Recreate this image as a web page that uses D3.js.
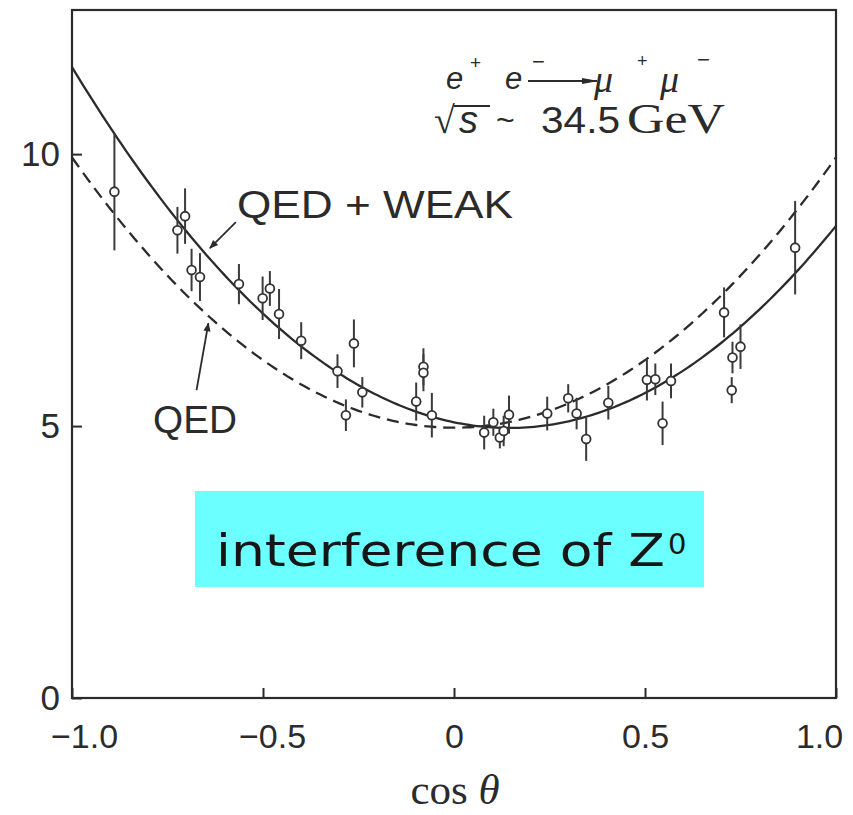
<!DOCTYPE html>
<html>
<head>
<meta charset="utf-8">
<script src="https://cdn.jsdelivr.net/npm/d3@7"></script>
<style>
  body { margin: 0; background: #ffffff; }
  svg { display: block; }
</style>
</head>
<body>
<svg id="chart" width="853" height="815"></svg>
<script>
// Measured differential cross section for e+e- -> mu+mu- at sqrt(s) ~ 34.5 GeV
const cosTheta = [-0.889, -0.704, -0.724, -0.687, -0.665, -0.563, -0.501, -0.482, -0.458, -0.400,
                  -0.305, -0.262, -0.283, -0.240, -0.099, -0.080, -0.080, -0.058, 0.079, 0.103,
                  0.120, 0.130, 0.144, 0.244, 0.299, 0.321, 0.346, 0.404, 0.505, 0.527,
                  0.546, 0.568, 0.893, 0.707, 0.750, 0.729, 0.727];
const crossSection = [9.31, 8.86, 8.60, 7.87, 7.74, 7.61, 7.35, 7.53, 7.06, 6.57,
                      6.01, 6.52, 5.20, 5.62, 5.45, 6.09, 5.98, 5.20, 4.88, 5.07,
                      4.79, 4.91, 5.21, 5.23, 5.51, 5.23, 4.76, 5.43, 5.85, 5.86,
                      5.05, 5.83, 8.28, 7.09, 6.46, 6.26, 5.66];
const errors = [1.08, 0.51, 0.43, 0.39, 0.44, 0.37, 0.40, 0.32, 0.46, 0.34,
                0.31, 0.44, 0.29, 0.28, 0.35, 0.34, 0.34, 0.41, 0.31, 0.25,
                0.20, 0.28, 0.35, 0.31, 0.26, 0.29, 0.40, 0.31, 0.38, 0.29,
                0.40, 0.32, 0.86, 0.46, 0.41, 0.29, 0.24];

// Theory: QED ~ N(1 + cos^2), QED + weak adds a forward-backward asymmetric term
const qedNorm = 4.97;
const weakNorm = 5.07;
const weakAsym = -1.46;

const xTicks = [-1, -0.5, 0, 0.5, 1];
const xTickLabels = ["\u22121.0", "\u22120.5", "0", "0.5", "1.0"];
const yTicks = [0, 5, 10];
const yTickLabels = ["0", "5", "10"];

const svg = d3.select("#chart");
const plotLeft = 72, plotRight = 836, plotTop = 10, plotBottom = 698;

const x = d3.scaleLinear().domain([-1, 1]).range([plotLeft, plotRight]);
const y = d3.scaleLinear().domain([0, 12.65]).range([plotBottom, plotTop]);

const ink = "#2b2b2b";
const sans = "'Liberation Sans', Arial, Helvetica, sans-serif";
const serif = "'Liberation Serif', 'Times New Roman', serif";

const defs = svg.append("defs");
defs.append("marker")
  .attr("id", "head").attr("viewBox", "0 0 10 10")
  .attr("refX", 9).attr("refY", 5)
  .attr("markerWidth", 9).attr("markerHeight", 9)
  .attr("markerUnits", "userSpaceOnUse")
  .attr("orient", "auto")
  .append("path").attr("d", "M0,1 L10,5 L0,9 Z").attr("fill", ink);
defs.append("marker")
  .attr("id", "headWide").attr("viewBox", "0 0 10 10")
  .attr("refX", 9).attr("refY", 5)
  .attr("markerWidth", 17).attr("markerHeight", 9)
  .attr("markerUnits", "userSpaceOnUse")
  .attr("preserveAspectRatio", "none")
  .attr("orient", "auto")
  .append("path").attr("d", "M0,1.5 L10,5 L0,8.5 Z").attr("fill", ink);
defs.append("clipPath").attr("id", "plotClip")
  .append("rect").attr("x", plotLeft).attr("y", plotTop)
  .attr("width", plotRight - plotLeft).attr("height", plotBottom - plotTop);

// Cyan caption box (drawn under the plot frame)
svg.append("rect")
  .attr("x", 195).attr("y", 491).attr("width", 509).attr("height", 96)
  .attr("fill", "#6bffff");

// Frame
svg.append("rect")
  .attr("x", plotLeft).attr("y", plotTop)
  .attr("width", plotRight - plotLeft).attr("height", plotBottom - plotTop)
  .attr("fill", "none").attr("stroke", ink).attr("stroke-width", 2.2);

// Bottom axis with inward ticks
const xAxis = d3.axisBottom(x)
  .tickValues(xTicks)
  .tickSize(-10)
  .tickPadding(26)
  .tickFormat((d, i) => xTickLabels[i]);
const gx = svg.append("g").attr("transform", `translate(0,${plotBottom})`).call(xAxis);
gx.select(".domain").remove();
gx.selectAll(".tick line").attr("stroke", ink).attr("stroke-width", 2);
gx.selectAll(".tick text")
  .attr("font-family", sans).attr("font-size", 34).attr("fill", ink)
  .attr("dx", d => d === -1 ? 12 : d === 1 ? -17 : d < 0 ? 9 : 0);

// Left axis with inward ticks
const yAxis = d3.axisLeft(y)
  .tickValues(yTicks)
  .tickSize(-10)
  .tickPadding(12)
  .tickFormat((d, i) => yTickLabels[i]);
const gy = svg.append("g").attr("transform", `translate(${plotLeft},0)`).call(yAxis);
gy.select(".domain").remove();
gy.selectAll(".tick line").attr("stroke", ink).attr("stroke-width", 2);
gy.selectAll(".tick text")
  .attr("font-family", sans).attr("font-size", 35).attr("fill", ink);

// Axis title
const xt = svg.append("text")
  .attr("x", 455).attr("y", 804)
  .attr("text-anchor", "middle")
  .attr("font-family", serif)
  .attr("font-size", 43).attr("fill", ink);
xt.append("tspan").text("cos ");
xt.append("tspan").attr("font-style", "italic").text("\u03b8");

// Theory curves
const grid = d3.range(0, 201).map(i => -1 + i / 100);
const qed = c => qedNorm * (1 + c * c);
const qedWeak = c => weakNorm * (1 + c * c) + weakAsym * c;
const line = d3.line().x(d => x(d[0])).y(d => y(d[1]));

const plot = svg.append("g").attr("clip-path", "url(#plotClip)");

plot.append("path")
  .attr("d", line(grid.map(c => [c, qed(c)])))
  .attr("fill", "none").attr("stroke", ink)
  .attr("stroke-width", 2.3).attr("stroke-dasharray", "12,7");

plot.append("path")
  .attr("d", line(grid.map(c => [c, qedWeak(c)])))
  .attr("fill", "none").attr("stroke", ink).attr("stroke-width", 2.3);

// Data points with error bars
const points = cosTheta.map((c, i) => ({ c, v: crossSection[i], e: errors[i] }));
const pg = plot.append("g");
pg.selectAll("line.err").data(points).join("line")
  .attr("class", "err")
  .attr("x1", d => x(d.c)).attr("x2", d => x(d.c))
  .attr("y1", d => y(d.v - d.e)).attr("y2", d => y(d.v + d.e))
  .attr("stroke", "#3a3a3a").attr("stroke-width", 2);
pg.selectAll("circle").data(points).join("circle")
  .attr("cx", d => x(d.c)).attr("cy", d => y(d.v))
  .attr("r", 4.4)
  .attr("fill", "#ffffff").attr("stroke", "#333").attr("stroke-width", 1.8);

// Curve labels with pointer arrows
svg.append("line")
  .attr("x1", x(-0.571)).attr("y1", y(8.75))
  .attr("x2", x(-0.639)).attr("y2", y(8.27))
  .attr("stroke", ink).attr("stroke-width", 1.8)
  .attr("marker-end", "url(#head)");
svg.append("line")
  .attr("x1", x(-0.674)).attr("y1", y(5.66))
  .attr("x2", x(-0.643)).attr("y2", y(6.89))
  .attr("stroke", ink).attr("stroke-width", 1.8)
  .attr("marker-end", "url(#head)");

svg.append("text")
  .attr("x", 237).attr("y", 218)
  .attr("font-family", sans).attr("font-size", 38).attr("fill", ink)
  .attr("textLength", 276).attr("lengthAdjust", "spacingAndGlyphs")
  .text("QED + WEAK");
svg.append("text")
  .attr("x", 153).attr("y", 433)
  .attr("font-family", sans).attr("font-size", 38).attr("fill", ink)
  .attr("textLength", 84).attr("lengthAdjust", "spacingAndGlyphs")
  .text("QED");

// Process and energy annotation
const ann = svg.append("g").attr("fill", ink);
ann.append("text").attr("x", 446).attr("y", 89)
  .attr("font-family", sans).attr("font-style", "italic").attr("font-size", 31).text("e");
ann.append("text").attr("x", 470).attr("y", 69)
  .attr("font-family", sans).attr("font-size", 19).text("+");
ann.append("text").attr("x", 505).attr("y", 89)
  .attr("font-family", sans).attr("font-style", "italic").attr("font-size", 31).text("e");
ann.append("text").attr("x", 532).attr("y", 69)
  .attr("font-family", sans).attr("font-size", 22).text("\u2212");
ann.append("line").attr("x1", 528).attr("y1", 81).attr("x2", 597).attr("y2", 81)
  .attr("stroke", ink).attr("stroke-width", 2).attr("marker-end", "url(#headWide)");
ann.append("text").attr("x", 594).attr("y", 92)
  .attr("font-family", serif).attr("font-style", "italic").attr("font-size", 38).text("\u03bc");
ann.append("text").attr("x", 637).attr("y", 67)
  .attr("font-family", sans).attr("font-size", 18).text("+");
ann.append("text").attr("x", 660).attr("y", 92)
  .attr("font-family", serif).attr("font-style", "italic").attr("font-size", 38).text("\u03bc");
ann.append("text").attr("x", 697).attr("y", 67)
  .attr("font-family", sans).attr("font-size", 22).text("\u2212");

ann.append("text").attr("x", 434).attr("y", 133)
  .attr("font-family", serif).attr("font-size", 38).text("\u221a");
ann.append("line").attr("x1", 454).attr("y1", 106).attr("x2", 490).attr("y2", 106)
  .attr("stroke", ink).attr("stroke-width", 2);
ann.append("text").attr("x", 459).attr("y", 133)
  .attr("font-family", sans).attr("font-style", "italic").attr("font-size", 38).text("s");
ann.append("text").attr("x", 496).attr("y", 131)
  .attr("font-family", sans).attr("font-size", 32).text("~");
ann.append("text").attr("x", 541).attr("y", 133)
  .attr("font-family", sans).attr("font-size", 37)
  .attr("textLength", 79).attr("lengthAdjust", "spacingAndGlyphs").text("34.5");
ann.append("text").attr("x", 627).attr("y", 133)
  .attr("font-family", serif).attr("font-size", 42)
  .attr("textLength", 98).attr("lengthAdjust", "spacingAndGlyphs").text("GeV");

// Caption in the cyan box
svg.append("text")
  .attr("x", 216).attr("y", 566)
  .attr("font-family", "'DejaVu Sans', sans-serif")
  .attr("font-size", 44).attr("fill", "#161616")
  .attr("textLength", 449).attr("lengthAdjust", "spacingAndGlyphs")
  .text("interference of Z");
svg.append("text")
  .attr("x", 668).attr("y", 554)
  .attr("font-family", "'DejaVu Sans', sans-serif")
  .attr("font-size", 29).attr("fill", "#161616")
  .text("0");
</script>
</body>
</html>
